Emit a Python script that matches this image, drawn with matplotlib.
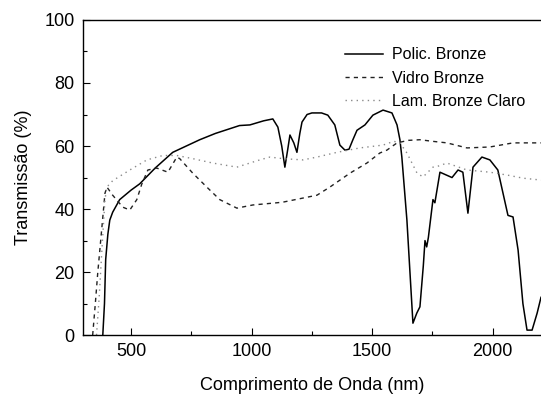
import matplotlib
matplotlib.use("Agg")
import matplotlib.pyplot as plt
from matplotlib.ticker import MultipleLocator

plt.rcParams['font.family'] = ['Liberation Sans', 'DejaVu Sans']

# Polic. Bronze (solid)
polic_x = [383, 390, 395, 404, 412, 424, 453, 500, 536, 600, 673, 785, 850, 950, 993,
           1050, 1088, 1109, 1125, 1138, 1150, 1159, 1175, 1188, 1200, 1209, 1230, 1250,
           1290, 1316, 1345, 1366, 1387, 1404, 1420, 1437, 1470, 1503, 1545, 1582, 1603,
           1615, 1623, 1644, 1669, 1685, 1698, 1712, 1719, 1726, 1733, 1752, 1760, 1781,
           1831, 1856, 1876, 1897, 1918, 1955, 1988, 2021, 2063, 2084, 2105, 2125, 2142,
           2163, 2184, 2200]
polic_y = [0, 10, 24, 32, 36.5, 39, 43, 46, 48, 53, 58, 62, 64, 66.5, 66.7,
           68, 68.6, 66, 60, 53.3, 59, 63.5, 61, 58, 64, 67.6, 70, 70.5,
           70.5, 69.8, 66.7, 60.3, 58.7, 59, 62, 65, 66.7, 69.8, 71.4, 70.5, 66.7,
           62, 56.5, 36.5, 3.8, 7, 9, 22, 30, 28, 31, 43, 42, 51.7,
           50, 52.4, 51.7, 38.7, 53.3, 56.5, 55.6, 52.4, 38, 37.5, 27, 10, 1.6,
           1.6, 7, 12]

# Vidro Bronze (dashed)
vidro_x = [341, 352, 362, 379, 392, 400, 424, 466, 495, 524, 545, 570, 607, 653, 690,
           702, 756, 814, 868, 939, 1005, 1105, 1130, 1271, 1325, 1408, 1478, 1532,
           1561, 1603, 1650, 1698, 1750, 1810, 1893, 1988, 2084, 2200]
vidro_y = [0, 10, 19.7, 34, 45, 47, 44.4, 40.6, 39.7, 43, 48, 52.4, 53, 51.7, 56.5,
           56, 51.4, 47, 43, 40.3, 41.3, 42, 42.2, 44.4, 47, 51.4, 54.6, 57.8,
           58.7, 61, 61.8, 62, 61.5, 61, 59.4, 59.7, 61, 61]

# Lam. Bronze Claro (dotted)
lam_x = [357, 368, 380, 392, 400, 424, 495, 566, 632, 690, 756, 839, 939, 1034, 1076,
         1130, 1213, 1271, 1354, 1449, 1545, 1590, 1615, 1644, 1686, 1711, 1752, 1769,
         1810, 1893, 1988, 2059, 2126, 2200]
lam_y = [0, 12, 28, 43, 47, 49, 52.4, 55.6, 57, 57, 56, 54.6, 53.3, 55.6, 56.5,
         56, 55.6, 56.5, 58, 59.4, 60.3, 61.5, 61, 57.8, 51.4, 50.2, 53.3, 53.5,
         54.6, 52.4, 51.7, 50.8, 49.8, 49.2]

fig = plt.figure(figsize=(5.41, 3.99), dpi=100)
ax = fig.add_axes([0.153, 0.160, 0.847, 0.790])

ax.plot(polic_x, polic_y, '-', color='black', linewidth=1.1, label='Polic. Bronze')
ax.plot(vidro_x, vidro_y, '--', color='#222222', linewidth=1.0, dashes=(3, 3),
        label='Vidro Bronze')
ax.plot(lam_x, lam_y, ':', color='#8a8a8a', linewidth=1.0, dashes=(1, 3),
        label='Lam. Bronze Claro')

ax.set_xlim(300, 2200)
ax.set_ylim(0, 100)
ax.set_xticks([500, 1000, 1500, 2000])
ax.set_yticks([0, 20, 40, 60, 80, 100])
ax.xaxis.set_minor_locator(MultipleLocator(250))
ax.yaxis.set_minor_locator(MultipleLocator(10))
ax.tick_params(which='both', direction='in', labelsize=13, width=0.8)
ax.tick_params(which='major', length=5, pad=6)
ax.tick_params(which='minor', length=3)
ax.spines['right'].set_visible(False)
for s in ['left', 'bottom', 'top']:
    ax.spines[s].set_linewidth(1.0)

ax.set_xlabel('Comprimento de Onda (nm)', size=13, labelpad=12)
ax.set_ylabel('Transmissão (%)', size=13, labelpad=9)

ax.legend(loc='upper left', bbox_to_anchor=(0.572, 0.913), frameon=False,
          borderpad=0, borderaxespad=0,
          fontsize=11.5, handlelength=2.4, handletextpad=0.55, labelspacing=0.52)

fig.savefig('out.png', dpi=100)
